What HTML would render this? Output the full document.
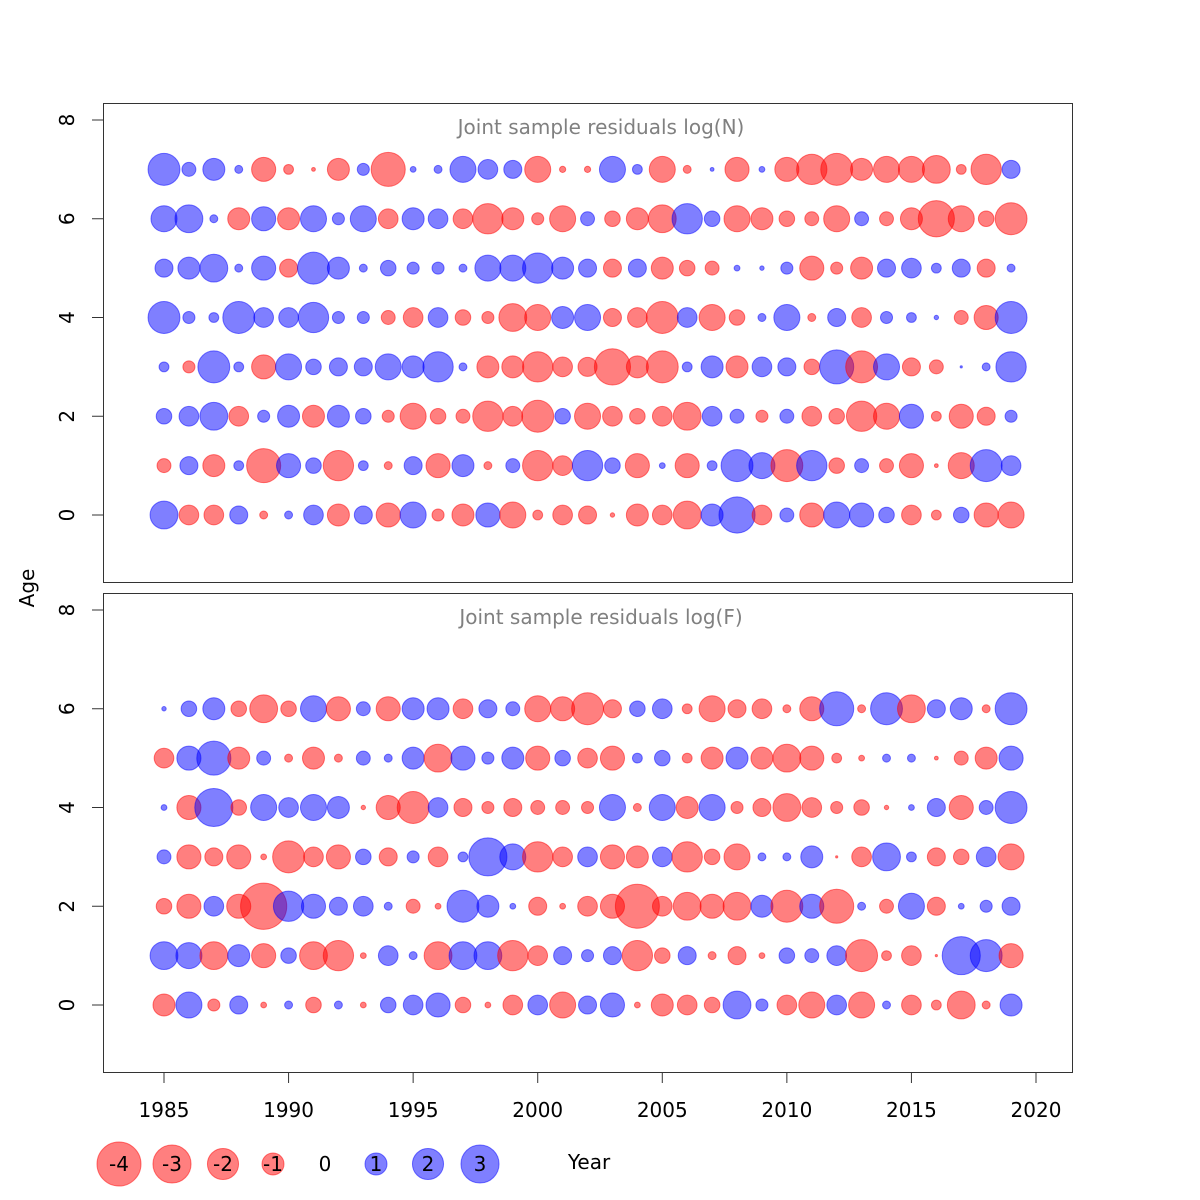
<!DOCTYPE html>
<html><head><meta charset="utf-8"><style>
html,body{margin:0;padding:0;background:#fff}
svg{display:block;font-family:"DejaVu Sans","Liberation Sans",sans-serif}
</style></head><body>
<svg id="chart" width="1200" height="1200" viewBox="0 0 1200 1200" xmlns="http://www.w3.org/2000/svg">
<rect width="1200" height="1200" fill="#fff"/>
<g id="panels"></g>
<text x="34" y="588" font-size="20" text-anchor="middle" transform="rotate(-90 34 588)">Age</text>
<text x="589" y="1169" font-size="20" text-anchor="middle">Year</text>
<g id="legend"></g>
</svg>
<script>
const years = [];
for (let y = 1985; y <= 2019; y++) years.push(y);
const xTicks = [1985,1990,1995,2000,2005,2010,2015,2020];
const yTicks = [0,2,4,6,8];
const legendValues = [-4,-3,-2,-1,0,1,2,3];

const resN = [
 [1.6,-0.8,-0.8,0.67,-0.13,0.13,0.8,-1.0,0.67,-1.2,1.4,-0.3,-1.0,1.2,-1.4,-0.2,-0.8,-0.67,-0.04,-1.0,-0.8,-1.6,1.0,2.7,-0.8,0.4,-1.2,1.4,1.2,0.5,-0.8,-0.2,0.5,-1.2,-1.4],
 [-0.4,0.67,-1.0,0.2,-2.4,1.2,0.5,-1.9,0.2,-0.13,0.67,-1.2,1.0,-0.13,0.4,-1.9,-0.8,1.9,0.5,-1.2,0.07,-1.2,0.2,2.1,1.4,-2.1,1.9,-0.5,0.4,-0.4,-1.2,-0.03,-1.4,2.1,0.8],
 [0.5,0.8,1.6,-0.8,0.3,1.0,-1.0,1.0,0.5,-0.3,-1.4,-0.5,-0.4,-1.9,-0.8,-2.1,0.5,-1.4,-0.8,-0.5,-0.8,-1.6,0.8,0.4,-0.3,0.4,-0.8,-0.5,-1.9,-1.4,1.2,-0.2,-1.2,-0.67,0.3],
 [0.2,-0.3,2.1,0.2,-1.2,1.4,0.5,0.67,0.67,1.4,1.0,1.9,0.13,-1.0,-1.0,-1.9,-0.8,-0.75,-2.7,-1.0,-2.1,0.2,1.0,-1.0,0.8,0.67,-0.5,2.4,-2.1,1.4,-0.67,-0.4,0.01,0.13,1.9],
 [2.1,0.3,0.2,2.1,0.8,0.8,1.9,0.3,0.3,-0.4,-0.8,0.8,-0.5,-0.3,-1.6,-1.4,1.0,1.4,-0.67,-0.8,-2.1,0.8,-1.4,-0.5,0.13,1.4,-0.13,0.67,-0.8,0.3,0.2,0.04,-0.4,-1.2,2.1],
 [0.67,1.0,1.6,0.13,1.2,-0.67,2.1,1.0,0.13,0.5,0.3,0.3,0.13,1.4,1.4,1.9,1.0,0.67,-0.67,0.67,-1.0,-0.5,-0.4,0.07,0.04,0.3,-1.2,-0.3,-1.0,0.67,0.8,0.2,0.67,-0.67,0.13],
 [1.4,1.6,0.13,-1.0,1.2,-1.0,1.4,0.3,1.4,-0.8,1.0,0.8,-0.8,-1.9,-1.0,-0.3,-1.4,0.4,-0.5,-1.0,-1.6,1.9,0.5,-1.4,-1.0,-0.5,-0.4,-1.4,0.4,-0.4,-1.0,-2.7,-1.4,-0.5,-2.1],
 [2.1,0.4,1.0,0.13,-1.2,-0.2,-0.03,-1.0,0.3,-2.4,0.07,0.13,1.4,0.8,0.67,-1.4,-0.08,-0.08,1.4,0.2,-1.4,-0.13,0.03,-1.2,0.07,-1.2,-1.9,-2.1,-1.0,-1.4,-1.4,-1.6,-0.2,-1.9,0.67]
];
const resF = [
 [-1.0,1.4,-0.3,0.67,-0.07,0.13,-0.5,0.13,-0.07,0.5,0.8,1.2,-0.5,-0.07,-0.8,0.8,-1.4,0.67,1.2,-0.07,-1.0,-0.8,-0.5,1.6,0.3,-0.8,-1.4,0.8,-1.4,0.13,-0.8,-0.2,-1.6,-0.13,1.0],
 [1.6,1.4,-1.6,1.0,-1.2,0.5,-1.6,-1.9,-0.07,0.8,0.13,-1.6,1.6,1.6,-1.9,-0.8,0.67,0.3,0.67,-1.9,-0.5,0.67,-0.13,-0.67,-0.07,0.5,0.4,0.8,-2.1,-0.2,-0.8,-0.01,3.0,2.1,-1.2],
 [-0.5,-1.2,0.8,-1.2,-4.4,1.9,1.2,0.67,0.8,0.13,-0.4,-0.07,2.1,1.0,0.07,-0.67,-0.07,-0.8,-1.2,-4.0,-0.8,-1.6,-1.2,-1.6,1.0,-2.1,1.2,-2.4,0.13,-0.4,1.4,-0.67,0.07,0.3,0.67],
 [0.4,-1.2,-0.67,-1.2,-0.07,-2.1,-0.8,-1.2,0.5,-0.67,0.3,-0.8,0.2,3.0,1.4,-1.9,-0.8,0.8,-1.2,-1.0,0.8,-1.9,-0.5,-1.4,0.13,0.13,1.0,-0.01,-0.8,1.6,0.2,-0.67,-0.5,0.8,-1.4],
 [0.07,-1.2,3.0,-0.5,1.4,0.8,1.4,1.0,-0.04,-1.2,-2.1,0.8,-0.67,-0.3,-0.67,-0.4,-0.4,-0.3,1.4,-0.13,1.4,-1.0,1.4,-0.3,-0.67,-1.6,-0.8,-0.3,-0.5,-0.04,0.07,0.67,-1.2,0.4,2.1],
 [-0.8,1.2,2.4,-1.0,0.4,-0.13,-1.0,-0.13,0.4,0.13,1.0,-1.6,1.2,0.3,1.0,-1.2,0.5,-0.8,-1.2,0.2,0.5,-0.2,-1.0,1.0,-1.0,-1.6,-1.2,-0.2,-0.07,0.13,0.13,-0.03,-0.4,-1.0,1.2],
 [0.04,0.5,1.0,-0.5,-1.6,-0.5,1.4,-1.2,0.4,-1.2,1.0,1.0,-0.8,0.67,0.4,-1.4,-1.2,-2.1,-0.67,0.5,0.8,-0.2,-1.4,-0.67,-0.8,-0.13,-1.2,2.4,-0.13,2.1,-1.6,0.67,1.0,-0.13,2.1]
];

const NS = "http://www.w3.org/2000/svg";
function mk(tag, attrs, parent){ const e=document.createElementNS(NS,tag); for(const k in attrs) e.setAttribute(k,attrs[k]); parent.appendChild(e); return e; }
const xScale = yr => 164 + (yr-1985)*(1036-164)/35;
const rScale = v => 11*Math.sqrt(Math.abs(v));
const panelsG = document.getElementById('panels');

const panels = [
 {top:103, bottom:582, y0:515, y8:120, title:"Joint sample residuals log(N)", data:resN, name:"n"},
 {top:593, bottom:1072, y0:1005, y8:610, title:"Joint sample residuals log(F)", data:resF, name:"f"}
];
panels.forEach(p => {
  const g = mk('g',{},panelsG);
  
  
  const yS = a => p.y0 + (p.y8-p.y0)*a/8;
  const frame = mk('rect',{x:103.5,y:p.top+0.5,width:969,height:p.bottom-p.top,fill:'none',stroke:'#333','stroke-width':1},g);
  
  
  const t = mk('text',{x:601,y:p.top+31,'font-size':20,fill:'#808080','text-anchor':'middle'},g);
  t.textContent = p.title;
  
  
  yTicks.forEach(a => {
    const y = yS(a);
    const tk = mk('line',{x1:92,x2:103,y1:y,y2:y,stroke:'#333'},g);
    
    
    const lb = mk('text',{x:74,y:y,'font-size':20,'text-anchor':'middle',transform:`rotate(-90 74 ${y})`},g);
    lb.textContent = a;
    
    
  });
  p.data.forEach((row, age) => {
    row.forEach((v, i) => {
      const c = mk('circle',{cx:xScale(years[i]),cy:yS(age),r:rScale(v),
        fill: v<0?'rgba(255,0,0,0.5)':'rgba(0,0,255,0.5)',
        stroke: v<0?'rgba(255,0,0,0.5)':'rgba(0,0,255,0.5)','stroke-width':1},g);
      
      
    });
  });
});
const ax = mk('g',{},panelsG);


mk('line',{x1:xScale(1985),x2:xScale(2020),y1:1072.5,y2:1072.5,stroke:'#333'},ax);
xTicks.forEach(yr => {
  const x = xScale(yr);
  const tk = mk('line',{x1:x,x2:x,y1:1072,y2:1083,stroke:'#333'},ax);
  
  
  const lb = mk('text',{x:x,y:1117,'font-size':20,'text-anchor':'middle'},ax);
  lb.textContent = yr;
  
  
});
const lg = document.getElementById('legend');
const legX = [119,172,223,273,325,376,428,480];
legendValues.forEach((v, i) => {
  if (v !== 0) {
    const c = mk('circle',{cx:legX[i],cy:1164,r:rScale(v),
      fill: v<0?'rgba(255,0,0,0.5)':'rgba(0,0,255,0.5)',
      stroke: v<0?'rgba(255,0,0,0.5)':'rgba(0,0,255,0.5)'},lg);
    
    
  }
  const t = mk('text',{x:legX[i],y:1171,'font-size':20,'text-anchor':'middle'},lg);
  t.textContent = v;
  
  
});
</script>
</body></html>
